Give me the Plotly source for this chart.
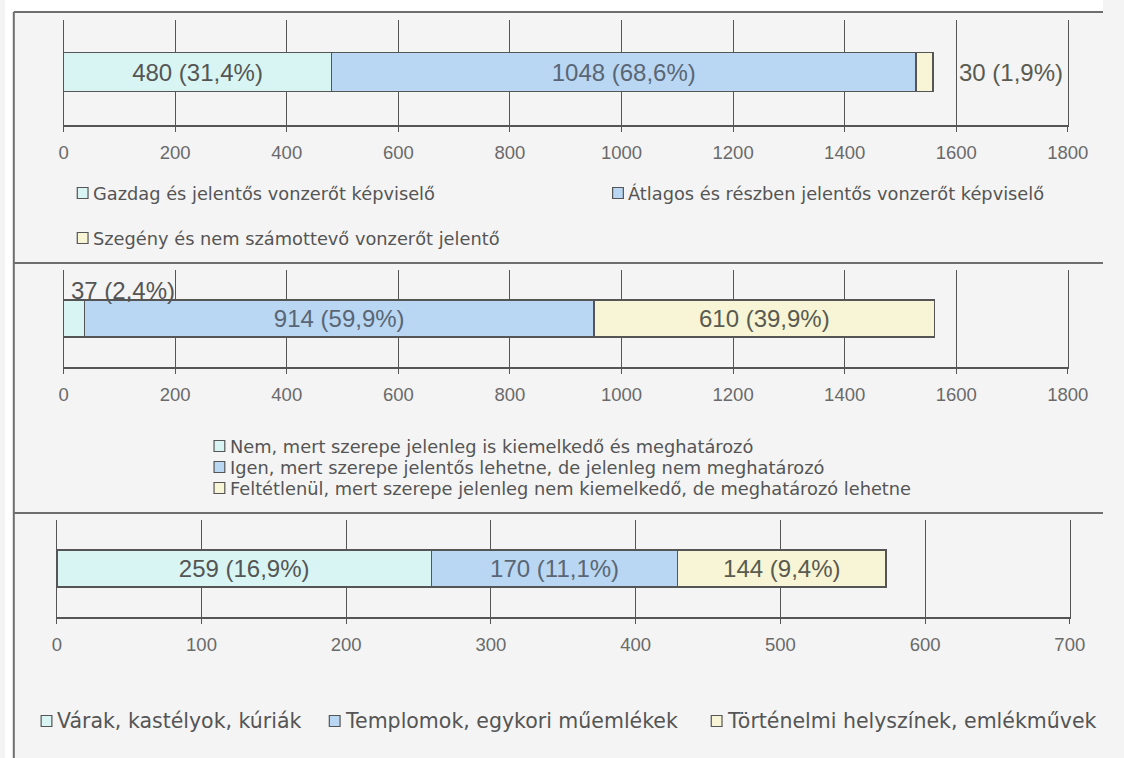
import plotly.graph_objects as go

FIG_W, FIG_H = 1124, 758

# ---- data -------------------------------------------------------------
p1_labels = ["Gazdag és jelentős vonzerőt képviselő",
             "Átlagos és részben jelentős vonzerőt képviselő",
             "Szegény és nem számottevő vonzerőt jelentő"]
p1_values = [480, 1048, 30]
p1_pct = [31.4, 68.6, 1.9]
p1_ticks = [0, 200, 400, 600, 800, 1000, 1200, 1400, 1600, 1800]

p2_labels = ["Nem, mert szerepe jelenleg is kiemelkedő és meghatározó",
             "Igen, mert szerepe jelentős lehetne, de jelenleg nem meghatározó",
             "Feltétlenül, mert szerepe jelenleg nem kiemelkedő, de meghatározó lehetne"]
p2_values = [37, 914, 610]
p2_pct = [2.4, 59.9, 39.9]
p2_ticks = [0, 200, 400, 600, 800, 1000, 1200, 1400, 1600, 1800]

p3_labels = ["Várak, kastélyok, kúriák",
             "Templomok, egykori műemlékek",
             "Történelmi helyszínek, emlékművek"]
p3_values = [259, 170, 144]
p3_pct = [16.9, 11.1, 9.4]
p3_ticks = [0, 100, 200, 300, 400, 500, 600, 700]

# ---- style ------------------------------------------------------------
COLORS = ["#d8f5f3", "#b9d7f2", "#f7f5d5"]
TEXT_COLORS = ["#555555", "#5a6675", "#5a5a50"]
EDGE = "#555555"
GRID = "#555555"
BG = "#f4f4f4"


def fx(px):
    return px / FIG_W


def fy(py):
    return 1 - py / FIG_H


def label(v, p):
    return f"{v} ({p:.1f}%)".replace(".", ",")


panels = [
    dict(values=p1_values, pct=p1_pct, ticks=p1_ticks, labels=p1_labels,
         x=(60, 1088), y=(20, 125), bar_w=0.372, bar_c=0.503),
    dict(values=p2_values, pct=p2_pct, ticks=p2_ticks, labels=p2_labels,
         x=(60, 1088), y=(270, 367), bar_w=0.38, bar_c=0.5),
    dict(values=p3_values, pct=p3_pct, ticks=p3_ticks, labels=p3_labels,
         x=(53, 1090), y=(520, 617), bar_w=0.38, bar_c=0.5),
]

fig = go.Figure()
layout = dict(
    width=FIG_W, height=FIG_H, margin=dict(l=0, r=0, t=0, b=0),
    paper_bgcolor=BG, plot_bgcolor="rgba(0,0,0,0)",
    barmode="stack", showlegend=False,
    font=dict(family="Liberation Sans", color="#555555"),
)

annotations = []
shapes = []

for k, p in enumerate(panels):
    sfx = "" if k == 0 else str(k + 1)
    xa, ya = "x" + sfx, "y" + sfx
    ticks = p["ticks"]
    layout["xaxis" + sfx] = dict(
        domain=[fx(p["x"][0]), fx(p["x"][1])],
        range=[ticks[0], ticks[-1]], anchor=ya,
        tickvals=ticks, ticktext=[str(t) for t in ticks],
        showgrid=True, gridcolor=GRID, gridwidth=1,
        showline=True, linecolor=GRID, linewidth=1.5,
        ticks="outside", ticklen=5, tickcolor=GRID, tickwidth=1,
        zeroline=False, ticklabelstandoff=5,
        tickfont=dict(family="Liberation Sans", size=18.5, color="#6a6a6a"),
        fixedrange=True,
    )
    layout["yaxis" + sfx] = dict(
        domain=[fy(p["y"][1]), fy(p["y"][0])], range=[0, 1], anchor=xa,
        showgrid=False, zeroline=False, showticklabels=False,
        showline=True, mirror=True, linecolor=GRID, linewidth=1.2, ticks="",
        fixedrange=True,
    )
    px_per_unit = (p["x"][1] - p["x"][0]) / (ticks[-1] - ticks[0])
    cum = 0
    for i, (v, pc) in enumerate(zip(p["values"], p["pct"])):
        seg_px = v * px_per_unit
        inside = seg_px > 100
        fig.add_trace(go.Bar(
            x=[v], y=[p["bar_c"]], orientation="h", width=p["bar_w"],
            xaxis=xa, yaxis=ya,
            marker=dict(color=COLORS[i], line=dict(color=EDGE, width=1.5)),
            text=[label(v, pc)], textposition="inside" if inside else "none",
            insidetextanchor="middle", constraintext="none",
            textfont=dict(family="Liberation Sans", size=24, color=TEXT_COLORS[i]),
            hoverinfo="skip", name=p["labels"][i],
        ))
        if not inside:
            if cum == 0:
                # narrow first segment: value sits above the bar
                annotations.append(dict(
                    x=0, y=p["bar_c"] + p["bar_w"] / 2, xref=xa, yref=ya,
                    xanchor="left", yanchor="bottom", xshift=5, yshift=-6,
                    text=label(v, pc), showarrow=False,
                    font=dict(family="Liberation Sans", size=24, color=TEXT_COLORS[i]),
                ))
            else:
                # narrow last segment: value sits to the right of the bar
                annotations.append(dict(
                    x=cum + v, y=p["bar_c"], xref=xa, yref=ya,
                    xanchor="left", yanchor="middle", xshift=24,
                    text=label(v, pc), showarrow=False,
                    font=dict(family="Liberation Sans", size=24, color=TEXT_COLORS[i]),
                ))
        cum += v

# ---- legends (swatch + text) -------------------------------------------
legend_items = [
    # (panel, item, swatch left px, centre y px, font size)
    (0, 0, 74, 193, 17.8),
    (0, 1, 622, 193, 17.8),
    (0, 2, 74, 238, 17.8),
    (1, 0, 214, 446, 17.8),
    (1, 1, 214, 467, 17.8),
    (1, 2, 214, 488, 17.8),
    (2, 0, 37, 721, 20.5),
    (2, 1, 332, 721, 20.5),
    (2, 2, 723, 721, 20.5),
]
for pk, i, sx, cy, fs in legend_items:
    shapes.append(dict(
        type="rect", xref="paper", yref="paper",
        x0=fx(sx), x1=fx(sx + 11), y0=fy(cy + 5.5), y1=fy(cy - 5.5),
        fillcolor=COLORS[i], line=dict(color=EDGE, width=1.2),
    ))
    annotations.append(dict(
        x=fx(sx + 14), y=fy(cy), xref="paper", yref="paper",
        xanchor="left", yanchor="middle", showarrow=False,
        text=panels[pk]["labels"][i],
        font=dict(family="DejaVu Sans", size=fs, color="#555555"),
    ))

# ---- outer frame and panel separators -----------------------------------
shapes += [
    dict(type="rect", xref="paper", yref="paper", x0=0, x1=1, y0=fy(12), y1=1,
         fillcolor="white", line=dict(width=0), layer="below"),
    dict(type="rect", xref="paper", yref="paper", x0=0, x1=fx(9), y0=0, y1=1,
         fillcolor="white", line=dict(width=0), layer="below"),
    dict(type="line", xref="paper", yref="paper", x0=fx(9), x1=1, y0=fy(12), y1=fy(12),
         line=dict(color="#6e6e6e", width=2)),
    dict(type="line", xref="paper", yref="paper", x0=fx(9), x1=fx(9), y0=0, y1=fy(12),
         line=dict(color="#6e6e6e", width=2)),
    dict(type="line", xref="paper", yref="paper", x0=fx(9), x1=1, y0=fy(263), y1=fy(263),
         line=dict(color="#6e6e6e", width=2)),
    dict(type="line", xref="paper", yref="paper", x0=fx(9), x1=1, y0=fy(513), y1=fy(513),
         line=dict(color="#6e6e6e", width=2)),
]

layout["annotations"] = annotations
layout["shapes"] = shapes
fig.update_layout(**layout)
fig.write_html("out.html")
